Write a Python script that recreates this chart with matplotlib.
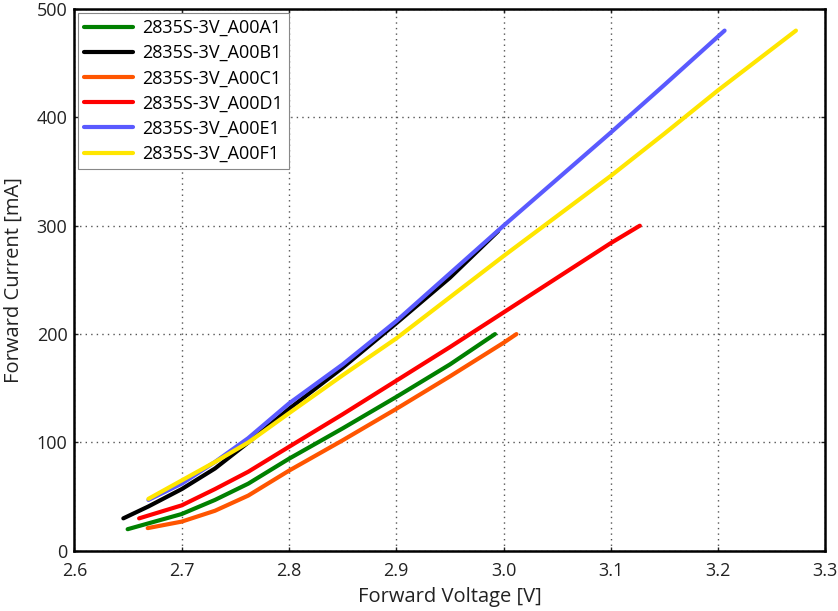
import matplotlib
matplotlib.use('Agg')
from matplotlib import pyplot as plt

plt.rcParams['font.family'] = ['Open Sans', 'DejaVu Sans']

# valores (V, mA)
v_a1 = [2.6496, 2.70, 2.731, 2.762, 2.80, 2.85, 2.90, 2.95, 2.992]
i_a1 = [20, 34, 47, 62, 85, 113, 142, 172, 200]

v_b1 = [2.6456, 2.669, 2.70, 2.731, 2.762, 2.80, 2.85, 2.90, 2.95, 2.995]
i_b1 = [30, 41, 57, 76, 100, 131, 169, 210, 252, 295]

v_c1 = [2.6683, 2.70, 2.731, 2.762, 2.80, 2.85, 2.90, 2.95, 3.00, 3.012]
i_c1 = [21, 27, 37, 51, 74, 102, 131, 161, 192, 200]

v_d1 = [2.6603, 2.70, 2.731, 2.762, 2.80, 2.85, 2.90, 2.95, 3.00, 3.05, 3.10, 3.127]
i_d1 = [30, 42, 57, 73, 96, 126, 157, 188, 220, 252, 284, 300]

v_e1 = [2.669, 2.70, 2.731, 2.762, 2.80, 2.85, 2.90, 2.95, 3.00, 3.05, 3.10, 3.15, 3.206]
i_e1 = [47, 62, 82, 104, 136, 172, 212, 256, 300, 343, 386, 430, 480]

v_f1 = [2.669, 2.70, 2.731, 2.762, 2.80, 2.85, 2.90, 2.95, 3.00, 3.05, 3.10, 3.15, 3.20, 3.2725]
i_f1 = [48, 65, 82, 100, 127, 162, 196, 234, 272, 309, 346, 385, 425, 480]

series = [
  (v_a1, i_a1, '2835S-3V_A00A1', '#008000'),
  (v_b1, i_b1, '2835S-3V_A00B1', '#000000'),
  (v_c1, i_c1, '2835S-3V_A00C1', '#ff5500'),
  (v_d1, i_d1, '2835S-3V_A00D1', '#ff0000'),
  (v_e1, i_e1, '2835S-3V_A00E1', '#5a5aff'),
  (v_f1, i_f1, '2835S-3V_A00F1', '#ffe600'),
]

fig = plt.figure(figsize=(8.38, 6.11), dpi=100)
ax = fig.add_axes([0.0888, 0.0984, 0.8962, 0.887])

for (v, i, nombre, color) in series:
  ax.plot(v, i, color=color, lw=3, label=nombre, solid_capstyle='round')

ax.set_xlim(2.6, 3.3)
ax.set_ylim(0, 500)
ax.set_xticks([2.6, 2.7, 2.8, 2.9, 3.0, 3.1, 3.2, 3.3])
ax.set_xticklabels(['2.6', '2.7', '2.8', '2.9', '3.0', '3.1', '3.2', '3.3'])
ax.set_yticks([0, 100, 200, 300, 400, 500])
ax.grid(True, linestyle=(0, (1, 3)), color='#555555', lw=1)
ax.tick_params(direction='in', length=3, width=1, top=True, right=True,
               labelsize=13, colors='#222222')
ax.tick_params(axis='x', pad=8)
ax.tick_params(axis='y', pad=5)
for spine in ax.spines.values():
  spine.set_linewidth(1.8)

ax.set_xlabel('Forward Voltage [V]', fontsize=14.5, color='#222222', labelpad=5)
ax.set_ylabel('Forward Current [mA]', fontsize=14.5, color='#222222', labelpad=9)

leg = ax.legend(loc='upper left', fontsize=13, handlelength=2.7, handletextpad=0.5,
                borderpad=0.35, fancybox=False, framealpha=1, edgecolor='#888888',
                borderaxespad=0.2, labelspacing=0.4)
leg.get_frame().set_linewidth(0.8)

fig.savefig('out.png', dpi=100)
